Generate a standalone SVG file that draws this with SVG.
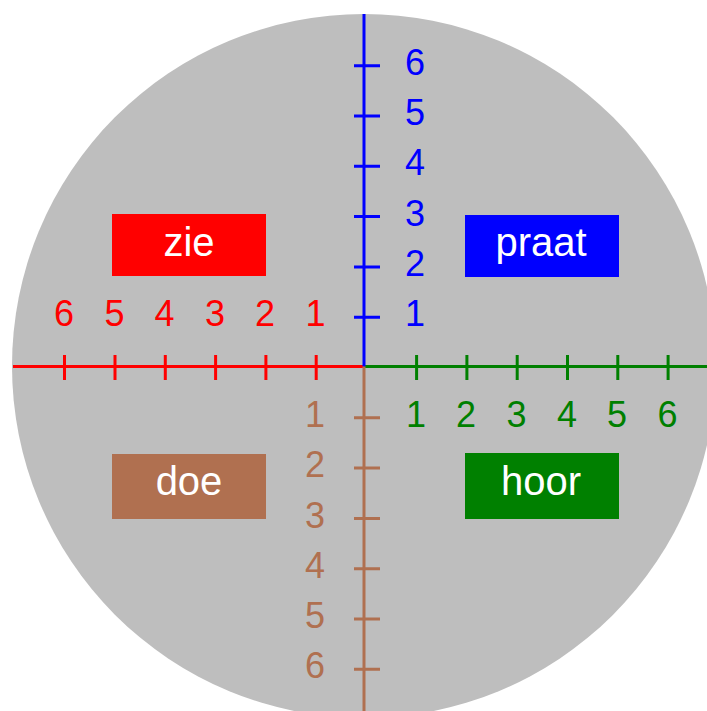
<svg xmlns="http://www.w3.org/2000/svg" width="707" height="711" viewBox="0 0 707 711">
<style>
text{font-family:"Liberation Sans",Arial,sans-serif;text-anchor:middle}
.n{font-size:36px}
.b{font-size:40px;fill:#fff}
.ax{stroke-width:3;fill:none}
</style>
<rect width="707" height="711" fill="#fff"/>
<circle cx="364" cy="366" r="352" fill="#bebebe"/>
<g id="connectors">
<g id="axis-zie" class="ax" stroke="#f00">
<path d="M13 366.5H364M64.5 355V380M115 355V380M165.3 355V380M215.6 355V380M265.9 355V380M316.2 355V380"/>
</g>
<g id="axis-hoor" class="ax" stroke="#008000">
<path d="M364 366.5H707M416.6 355V380M466.9 355V380M517.2 355V380M567.5 355V380M617.8 355V380M668.1 355V380"/>
</g>
<g id="axis-praat" class="ax" stroke="#00f">
<path d="M364 14V366.5M354 65.7H380M354 116H380M354 166.3H380M354 216.6H380M354 266.9H380M354 317.2H380"/>
</g>
<g id="axis-doe" class="ax" stroke="#b07050">
<path d="M364 366.5V711M354 417.8H380M354 468.1H380M354 518.4H380M354 568.7H380M354 619H380M354 669.3H380"/>
</g>
</g>
<g id="labels-zie" class="n" fill="#f00">
<text x="64" y="326">6</text><text x="114.5" y="326">5</text><text x="164.5" y="326">4</text><text x="215" y="326">3</text><text x="265" y="326">2</text><text x="315.5" y="326">1</text>
</g>
<g id="labels-hoor" class="n" fill="#008000">
<text x="416" y="427">1</text><text x="466" y="427">2</text><text x="516.5" y="427">3</text><text x="567" y="427">4</text><text x="617" y="427">5</text><text x="667.5" y="427">6</text>
</g>
<g id="labels-praat" class="n" fill="#00f">
<text x="415" y="326">1</text><text x="415" y="276">2</text><text x="415" y="226">3</text><text x="415" y="175">4</text><text x="415" y="125">5</text><text x="415" y="75">6</text>
</g>
<g id="labels-doe" class="n" fill="#b07050">
<text x="315" y="427">1</text><text x="315" y="477">2</text><text x="315" y="528">3</text><text x="315" y="578">4</text><text x="315" y="628">5</text><text x="315" y="678">6</text>
</g>
<g id="zie"><rect x="112" y="214" width="154" height="62" fill="#f00"/><text class="b" x="189" y="256">zie</text></g>
<g id="praat"><rect x="465" y="215" width="154" height="62" fill="#00f"/><text class="b" x="541" y="256">praat</text></g>
<g id="doe"><rect x="112" y="454" width="154" height="65" fill="#b07050"/><text class="b" x="189" y="495">doe</text></g>
<g id="hoor"><rect x="465" y="453" width="154" height="66" fill="#008000"/><text class="b" x="541" y="495">hoor</text></g>
</svg>
